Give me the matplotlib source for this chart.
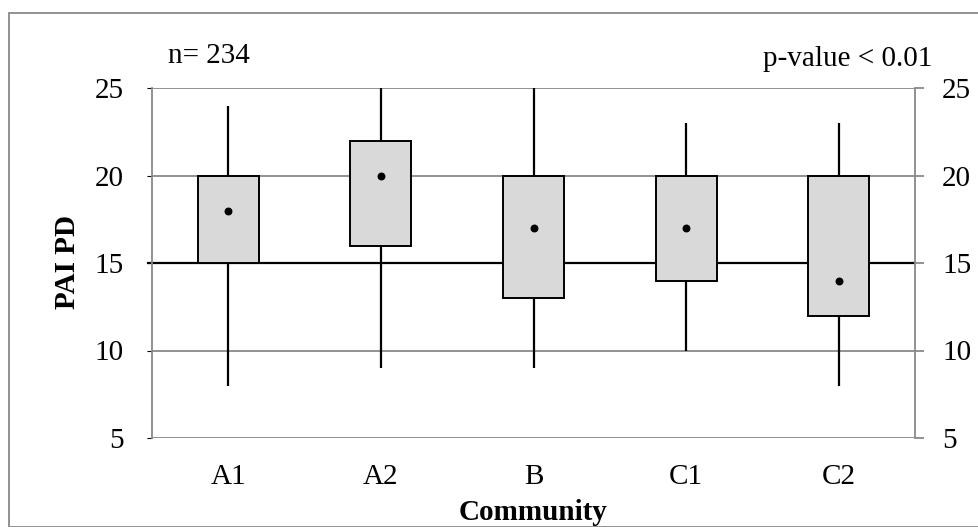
import matplotlib
matplotlib.use("Agg")
import matplotlib.pyplot as plt
from matplotlib.patches import Rectangle

categories = ["A1", "A2", "B", "C1", "C2"]
q1 = [15, 16, 13, 14, 12]
q3 = [20, 22, 20, 20, 20]
whisk_low = [8, 9, 9, 10, 8]
whisk_high = [24, 25, 25, 23, 23]
center = [18, 20, 17, 17, 14]
yticks = [5, 10, 15, 20, 25]

plt.rcParams['font.family'] = ['Liberation Serif', 'DejaVu Serif']
FS = 21

fig = plt.figure(figsize=(9.79, 5.27), dpi=100)
W, H = 979, 527
ax = fig.add_axes([152 / W, 1 - 438 / H, (915 - 152) / W, (438 - 88) / H])

grid_c = '#898989'
ax.set_xlim(-0.5, len(categories) - 0.5)
ax.set_ylim(5, 25)

for y in yticks:
    if y == 15:
        ax.axhline(y, color='black', lw=1.6, zorder=1)
    else:
        ax.axhline(y, color=grid_c, lw=1.3, zorder=1)

bw = 0.4
xs = list(range(len(categories)))
ax.vlines(xs, whisk_low, whisk_high, color='black', lw=1.6, zorder=2)
for i in xs:
    ax.add_patch(Rectangle((i - bw / 2, q1[i]), bw, q3[i] - q1[i],
                           facecolor='#d9d9d9', edgecolor='black', lw=1.4, zorder=3))
ax.scatter(xs, center, color='black', s=22, zorder=4)

for s in ['top', 'bottom']:
    ax.spines[s].set_visible(False)
for s in ['left', 'right']:
    ax.spines[s].set_color(grid_c)
    ax.spines[s].set_linewidth(1.3)

ax.set_xticks(xs)
ax.set_xticklabels(categories, fontsize=FS)
ax.tick_params(axis='x', length=0, pad=19)
ax.set_yticks(yticks)
ax.set_yticklabels([str(v) for v in yticks], fontsize=FS)
ax.tick_params(axis='y', left=False, right=False, labelleft=True, labelright=False, pad=17)

ax2 = ax.twinx()
ax2.set_ylim(5, 25)
ax2.set_yticks(yticks)
ax2.set_yticklabels([str(v) for v in yticks], fontsize=FS)
ax2.tick_params(axis='y', right=True, length=6.5, color=grid_c, width=1.3, pad=13)
for s in ['top', 'bottom', 'left', 'right']:
    ax2.spines[s].set_visible(False)

# short black tick on left at 15
ax.plot([-0.5 - 0.025, -0.5], [15, 15], color='black', lw=1.6, clip_on=False, zorder=1)

fig.text(533 / W, 1 - 520 / H, "Community", fontsize=FS, fontweight='bold', ha='center', va='baseline')
fig.text(68 / W, 1 - 262 / H, "PAI PD", fontsize=FS, fontweight='bold', ha='center', va='center', rotation=90)

fig.text(168 / W, 1 - 63 / H, "n= 234", fontsize=FS, ha='left', va='baseline')
fig.text(932 / W, 1 - 66 / H, "p-value < 0.01", fontsize=FS, ha='right', va='baseline')

fig.add_artist(Rectangle((9 / W, 0), 1 - 9 / W, 1 - 13 / H, transform=fig.transFigure,
                         fill=False, edgecolor=grid_c, lw=1.3))

fig.savefig("out.png", dpi=100)
